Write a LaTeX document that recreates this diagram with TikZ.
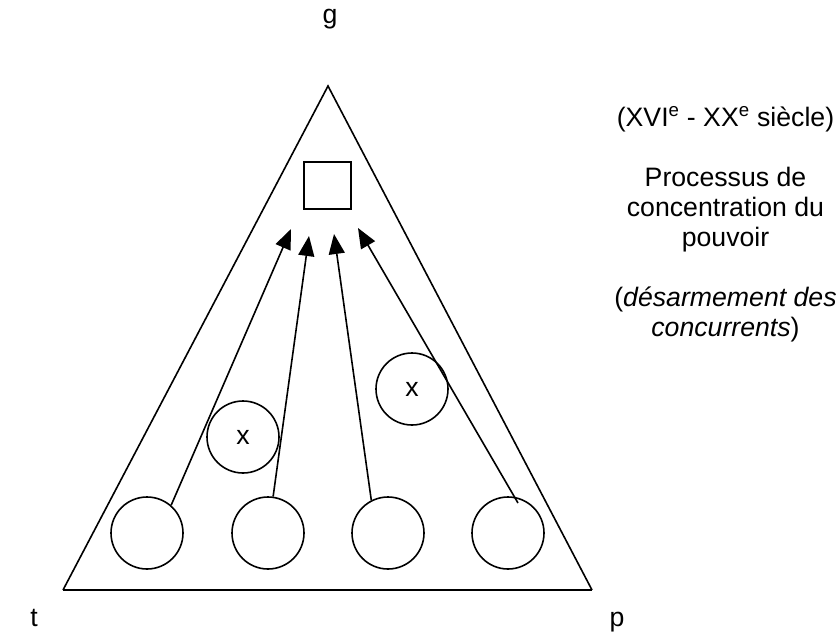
\documentclass[tikz,border=0pt]{standalone}
\usepackage{fontspec}
\setmainfont{Liberation Sans}
\usetikzlibrary{arrows.meta}
\begin{document}
\begin{tikzpicture}[x=1pt,y=-1pt,
  lw/.style={line width=1.6pt},
  ring/.style={draw,lw,circle,minimum size=72pt,inner sep=0pt},
  xring/.style={ring,font=\fontsize{26.67}{30}\selectfont},
  boxnode/.style={draw,lw,rectangle,minimum size=47pt,inner sep=0pt},
  lbl/.style={anchor=base,inner sep=0pt,font=\fontsize{26.67}{30}\selectfont},
  arr/.style={lw,-{Triangle[length=20pt,width=16pt]}}]
\useasboundingbox (0,0) rectangle (837,635);
% triangle
\coordinate (apex) at (328,86);
\coordinate (bl) at (63,590);
\coordinate (br) at (592,590);
\draw[lw,line join=miter] (bl) -- (apex) -- (br);
\draw[line width=2.4pt] (bl) -- (br);
% corner labels
\node[lbl] (g) at (330,23) {g};
\node[lbl] (t) at (34,626) {t};
\node[lbl] (p) at (617,626) {p};
% square
\node[boxnode] (sq) at (327.5,185.5) {};
% bottom circles
\node[ring] (c1) at (147,533) {};
\node[ring] (c2) at (268,533) {};
\node[ring] (c3) at (388,533) {};
\node[ring] (c4) at (508,533) {};
% x circles
\node[xring] (x1) at (243,437) {x};
\node[xring] (x2) at (412,389) {x};
% arrows
\coordinate (t1) at (291,229);
\coordinate (t2) at (309,236);
\coordinate (t3) at (334,234);
\coordinate (t4) at (358,228);
\coordinate (s4) at (518,503);
\draw[arr] (c1.49) -- (t1);
\draw[arr] (c2.82) -- (t2);
\draw[arr] (c3.117) -- (t3);
\draw[arr] (s4) -- (t4);
% right text
\node[lbl] (l1) at (725.5,126) {(XVI\textsuperscript{e} - XX\textsuperscript{e} siècle)};
\node[lbl] (l2) at (725.5,186) {Processus de};
\node[lbl] (l3) at (725.5,216) {concentration du};
\node[lbl] (l4) at (725.5,246) {pouvoir};
\node[lbl] (l5) at (725.5,306) {(\textit{désarmement des}};
\node[lbl] (l6) at (725.5,336) {\textit{concurrents})};
\end{tikzpicture}
\end{document}
